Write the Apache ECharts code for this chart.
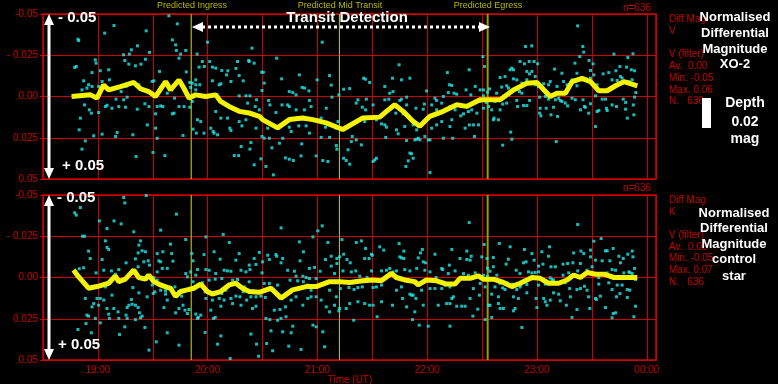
<!DOCTYPE html>
<html lang="en">
<head>
<meta charset="UTF-8">
<title>XO-2 transit</title>
<script src="https://cdn.jsdelivr.net/npm/echarts@6/dist/echarts.min.js"></script>
<style>html,body{margin:0;background:#000;}</style>
</head>
<body>
<div id="main" style="width:778px;height:384px;"></div>
<script>
// times are minutes after 18:00 UT, values are differential magnitude
var ingress = 111, midTransit = 192, egress = 273;
var yTickLabels = {'-50': '-0.05', '-25': '- 0.025', '0': '0.00', '25': '0.025', '50': '0.05'};

var topDots = [
[49.1,-0.0347],[49.5,-0.0339],[47.3,-0.0176],[48.2,-0.0182],[63.7,-0.0384],[68.8,-0.043],[86.4,-0.0398],[81.6,-0.0307],[78.3,-0.0283],[77.2,-0.0257],
[74,-0.0253],[74.7,-0.0218],[76.9,-0.0196],[80.5,-0.0186],[83.5,-0.0196],[86,-0.0226],[88.2,-0.0267],[58.6,-0.0222],[59,-0.0202],[56.8,-0.0145],
[61.3,-0.0156],[65.9,-0.0162],[66.3,-0.0101],[62.3,-0.0091],[60.4,-0.0061],[52.2,-0.0095],[51.3,-0.004],[54,-0.0051],[54.9,-0.0071],[56.8,-0.0061],
[52.7,0.0051],[55.3,0.0081],[56.4,0.0101],[50.4,0.0131],[49.8,0.0202],[57.7,0.0238],[53.1,0.0269],[51.3,0.0319],[62.3,0.0228],[60.4,0.0097],
[64.1,0.0061],[65,0.0053],[67.7,0.0071],[71.4,0.0061],[69.9,0.0016],[74.1,0.002],[76,0.0004],[75.1,0.0065],[81.5,0.0077],[85.7,0.0044],
[87.9,0.0061],[90.6,0],[92.4,0.0061],[94.3,0.0057],[95.5,0.0061],[91.5,0.0105],[87,0.0172],[91.5,0.0192],[90.1,0.0339],[80.9,0.0364],
[96.6,0.0358],[79.1,0.0232],[70.5,0.0218],[69.6,0.0242],[72.7,-0.003],[75.4,-0.0061],[82.4,-0.0071],[89.7,-0.0091],[90.6,-0.0095],[93.7,-0.0152],
[94.3,-0.0055],[97.9,-0.002],[100.7,-0.0343],[102.5,-0.0313],[103.4,-0.044],[98.8,-0.0489],[108,-0.0279],[104.3,-0.0232],[105.2,-0.0257],[102.9,-0.0279],
[108.3,-0.0149],[110.2,-0.0085],[111.6,-0.0081],[113.5,-0.0071],[110.7,-0.0055],[113.5,-0.004],[115.7,-0.0071],[119.9,-0.0329],[114.2,-0.0257],[117.1,-0.0212],
[118.2,-0.0182],[121.1,-0.0212],[115.3,-0.0178],[122.6,-0.0178],[124.4,-0.0172],[127.7,-0.0158],[131,-0.0156],[130.3,-0.0131],[135.4,-0.017],[136.3,-0.0212],
[142.4,-0.0218],[137.2,-0.0127],[132.7,-0.0091],[126.3,-0.0071],[122.6,-0.0095],[127.2,-0.0077],[139.4,-0.0095],[140.9,-0.0004],[137.2,-0.0004],[141.8,0.004],
[124.4,0.0091],[127.2,0.0131],[130.8,0.0131],[132.1,0.0192],[132.7,0.0206],[137.2,0.0152],[138.7,0.0178],[140.9,0.0141],[111.6,0.003],[110.2,0.0065],
[104.3,0.0061],[107.1,0.0061],[101.9,0.001],[101.6,0.0101],[106.5,0.0236],[112,0.0198],[114.4,0.0141],[116.2,0.0152],[113.8,0.0222],[118,0.0222],
[121.7,0.0192],[123.5,0.0222],[125.4,0.0232],[134.5,0.0358],[136.9,0.0358],[138.3,0.0303],[100.7,0.0105],[113.5,-0.0101],[123,0.0212],[92.4,0.0253],
[144.2,-0.0293],[142.7,-0.0212],[145.4,-0.0202],[157.7,-0.0232],[149.5,-0.0147],[150.4,-0.0147],[150.9,-0.0081],[160.4,-0.0107],[170.1,-0.0131],[149.7,-0.0036],
[143.1,-0.0004],[146.7,0.002],[153.3,0.0024],[154,0.0051],[146,0.0061],[148.2,0.0081],[157.3,0.0097],[160.6,0.0051],[164.6,-0.003],[166.5,-0.0024],
[171.6,-0.0055],[172.9,-0.0051],[175.3,-0.0034],[168.3,-0.001],[164.6,0.0061],[163.7,0.0051],[168.3,0.0081],[172.9,0.0081],[175.6,0.0024],[176.5,0.0061],
[180.2,0.0141],[179.8,-0.0101],[182.6,-0.0329],[186.6,-0.0127],[187.5,-0.0069],[191.7,-0.001],[194.3,-0.0044],[197.6,-0.0048],[187.9,0.0004],[184.8,0.0071],
[182,0.0131],[184.4,0.0186],[191.2,0.0152],[190.3,0.0192],[186.6,0.0248],[182,0.0248],[175.6,0.0222],[173.8,0.0178],[169.8,0.0178],[164.6,0.0186],
[165.6,0.0212],[161,0.0253],[159.2,0.0283],[152.8,0.0192],[153.7,0.0253],[150.9,0.0253],[146.4,0.0192],[149.7,0.0242],[143.6,0.0279],[143.1,0.0319],
[155.1,0.0311],[149.1,0.0378],[145.4,0.0414],[151.8,0.0424],[155.9,0.0475],[162.5,0.0372],[164.6,0.038],[166.8,0.0388],[171,0.036],[171.4,0.0287],
[179.3,0.036],[182.9,0.0388],[185.7,0.0394],[190.3,0.0297],[190.6,0.0319],[194.3,0.0374],[195.7,0.0388],[197.6,0.041],[196.7,0.0323],[198.5,0.0273],
[201.2,0.0263],[204,0.0293],[199,0.0242],[205.8,0.0152],[206.3,0.0081],[204.5,0.0065],[202.1,0.002],[201.2,0.004],[206.7,0.0016],[210.4,0.0051],
[212.2,0.0141],[215,0.0166],[216.8,0.0172],[217.7,0.0186],[216.8,0.002],[219,0.0016],[219.5,-0.002],[221.3,-0.003],[225,0.0024],[225.9,0.0016],
[228.7,0.0004],[228.7,0.0051],[223.2,0.0061],[222.8,0.0101],[227.7,0.0182],[231.4,0.0141],[232.3,0.0172],[234.2,0.0202],[235.1,0.0253],[236,0.0182],
[230.5,0.0343],[232.3,0.0374],[229.6,0.039],[231.4,0.0347],[228.3,0.0424],[233.2,0.0263],[228.7,0.0267],[212.2,0.0374],[211.3,0.0384],[210.4,0.0394],
[217.3,0.0248],[223.2,0.0202],[224.1,0.0226],[226.8,0.0105],[233.8,0.0071],[237.8,0.0077],[238.4,0.0046],[239.6,-0.0034],[242.4,0.0051],[244.2,0.001],
[245.1,0.0024],[248.8,0],[245.1,0.0081],[247.9,0.004],[252.4,0.0061],[255.2,0.0081],[258.3,0.0117],[259.8,0.0105],[262.5,0.0091],[264.3,0.0081],
[267.1,0.0101],[263,0.0172],[265.2,0.0172],[268,0.0172],[265.8,0.0242],[260.7,0.0192],[253.4,0.0141],[252.4,0.0182],[247.9,0.0152],[245.1,0.0172],
[242.4,0.0192],[240.5,0.0263],[234.2,0.0259],[236,0.0263],[238.7,0.0242],[241.5,0.0263],[248.8,0.0253],[253.9,0.0253],[254.6,-0.002],[251.5,-0.0024],
[256.1,-0.0014],[261.2,-0.004],[263.8,-0.001],[266.2,-0.0061],[268.9,-0.004],[270.7,-0.004],[270.7,-0.0004],[272.9,-0.0026],[274,-0.0046],[272.2,0.0036],
[270.7,0.0071],[273.5,0.0061],[268.9,0.003],[262.9,-0.0162],[251,-0.0145],[252.1,-0.0071],[253.4,-0.0067],[241.5,0.0461],[224.6,-0.0192],[221,-0.0111],
[225.9,-0.0101],[230.5,-0.0111],[205.2,-0.0111],[206.2,-0.0105],[208.5,-0.0085],[216.8,-0.0061],[270.4,-0.0242],[271.3,-0.0182],
[322.2,-0.0428],[293.7,-0.0303],[297.1,-0.0307],[325,-0.0303],[325.5,-0.0269],[323.3,-0.0242],[320.7,-0.0202],[328.4,-0.0218],[330.6,-0.0198],[342,-0.0257],
[352.4,-0.0259],[349.6,-0.0236],[290.7,-0.0212],[293.1,-0.0198],[295.7,-0.0212],[298.4,-0.0212],[300.3,-0.0198],[286.2,-0.0172],[285.3,-0.0162],[287.1,-0.0162],
[294.4,-0.0152],[297.2,-0.0152],[299,-0.0121],[295.9,-0.0137],[309.6,-0.0166],[313.6,-0.0141],[321.8,-0.0141],[329.2,-0.0158],[331,-0.0131],[336.1,-0.0137],
[339.2,-0.0145],[343.1,-0.0156],[345.3,-0.0182],[348.9,-0.0178],[351.5,-0.0162],[353.3,-0.0156],[352,-0.0101],[350.2,-0.0091],[346.5,-0.0111],[345.6,-0.0121],
[343.8,-0.0097],[341,-0.0101],[332.8,-0.0071],[329.2,-0.0111],[324.6,-0.0101],[321.8,-0.0065],[319.1,-0.0101],[314.5,-0.0091],[316.4,-0.0071],[310.9,-0.0061],
[307.2,-0.0091],[306.3,-0.0071],[303.6,-0.0077],[300.8,-0.0061],[299,-0.0071],[294.4,-0.0101],[291.7,-0.0081],[288.9,-0.0101],[287.1,-0.0107],[282.5,-0.0121],
[279.8,-0.0115],[277.9,-0.002],[280.7,-0.0057],[283.4,-0.0065],[284.4,-0.0051],[277,0.003],[281.2,0.0046],[283.4,0.004],[288.9,0.0024],[290.4,-0.003],
[291.7,-0.002],[295.9,0.0024],[292.6,0.0055],[289.3,0.0061],[294.4,0.0055],[301.4,0.0004],[304.5,0],[306.3,0.0016],[310,0.002],[311.8,0.001],
[313.6,0.003],[315.4,0.004],[316.7,0.0057],[319.1,0.001],[320.9,0.002],[325.1,0.002],[329.2,0.0044],[325.9,0.0061],[331.9,-0.0004],[335.6,0.0016],
[337.4,0.0016],[341,0.0051],[343.4,0.0061],[347.1,0.0016],[348.4,0.0036],[353.3,0.0004],[354,-0.0024],[352.6,0.0051],[348.4,0.0077],[337.9,0.0071],
[338.3,0.0085],[333.7,0.0085],[332.8,0.0091],[328.2,0.0101],[326.4,0.0065],[323.7,0.0081],[312.7,0.0024],[311.2,0.0121],[307.6,0.0111],[305,0.0071],
[301.7,0.0071],[301.4,0.0101],[302.1,0.0117],[309,0.0065],[279.8,0.0081],[278.9,0.0141],[276.1,0.0141],[275.2,0.0081],[349.3,0.0131],[352.9,0.0111],
[331.9,0.0182],[310.5,0.0273],[286.2,0.0259],[285.6,0.0216],[281.2,0.0295],[276.5,0.0131]
];

var topAverage = [
[45.6,0],[56,-0.001],[59.5,0.001],[63.1,-0.007],[65.9,-0.004],[72.3,-0.006],[79.6,-0.0085],[83.3,-0.0047],[87.8,-0.003],[91.5,0],
[97,-0.009],[99.7,-0.004],[104.3,-0.01],[107,-0.005],[109.8,0.001],[113.4,-0.001],[118.9,0],[124.4,-0.001],[127.1,0.003],[131.7,0.006],
[137.2,0.009],[142.7,0.01],[148.2,0.012],[150,0.014],[158.2,0.019],[164.6,0.014],[171.9,0.013],[177.4,0.014],[184.7,0.016],[193.8,0.02],
[204.8,0.013],[214,0.0125],[217.7,0.009],[222.2,0.005],[226.8,0.009],[232.2,0.015],[235.9,0.018],[241.4,0.012],[248.7,0.009],[256.1,0.005],
[261.5,0.006],[268.8,0.002],[274.3,0.002],[279.8,0.002],[287.1,-0.004],[294.4,-0.008],[299.9,-0.0085],[307.2,0],[310.9,-0.002],[315.5,-0.002],
[319.1,-0.009],[324.6,-0.011],[329.2,-0.009],[333.7,-0.0035],[338.3,-0.0035],[342.9,-0.0065],[347.5,-0.009],[354.8,-0.0065]
];

var bottomDots = [
[47.3,-0.0392],[48.2,-0.0378],[50.4,-0.0424],[74.1,-0.0485],[74.7,-0.0452],[86.4,-0.0497],[102.9,-0.0384],[60.8,-0.0343],[65,-0.0297],[68.8,-0.0343],
[72.7,-0.0325],[79.6,-0.0277],[94.3,-0.0287],[51.6,-0.025],[52.7,-0.025],[64.1,-0.0222],[65,-0.0182],[65.9,-0.017],[54.9,-0.016],[55.8,-0.0115],
[62.3,-0.0109],[75.4,-0.0089],[71.4,-0.0048],[69.6,-0.002],[67.4,-0.004],[63.2,-0.0044],[59,-0.0028],[49.8,-0.0053],[52.2,-0.0059],[82.4,-0.0196],
[83.3,-0.0222],[84.2,-0.0162],[86,-0.0156],[82,-0.0149],[87.5,-0.0101],[85.1,-0.0095],[80.5,-0.0113],[82,-0.0065],[80.2,-0.0028],[88.2,-0.0075],
[92.4,-0.0145],[95.5,-0.0156],[99.7,-0.0202],[100.3,-0.0145],[93.3,-0.0101],[94.3,-0.0095],[95.2,-0.0055],[92.4,-0.0034],[101,-0.0099],[97.9,-0.0055],
[90.6,0],[92.4,0.0016],[89.7,0.0046],[91.1,0.0087],[90.2,0.0097],[86.9,0.0117],[82.4,0.0093],[79.1,0.0061],[78.3,0.0133],[76.9,0.0168],
[76,0.0182],[78.7,0.0162],[80.5,0.0168],[82,0.0182],[82.7,0.0214],[83.3,0.0244],[84.2,0.0234],[75.4,0.0228],[71,0.0208],[68.7,0.0188],
[65.9,0.0222],[67.7,0.0107],[61.3,0.0127],[60.4,0.0168],[63.2,0.0137],[65,0.0188],[64.1,0.0057],[59.5,0.0127],[57.7,0.0158],[56.8,0.0178],
[53.1,0.0127],[54,0.0228],[54.9,0.0234],[58.6,0.0248],[61.3,0.0275],[66.3,0.0248],[71.4,0.0248],[76,0.0248],[80.5,0.0255],[53.5,0.0279],
[49.1,0.0315],[56.4,0.0335],[71.8,0.0345],[74.7,0.0299],[85.7,0.0303],[91.9,0.039],[87.9,0.044],[97.9,0.0335],[104.3,0.041],[102.5,0.0214],
[104.3,0.0188],[96.1,0.0182],[97.9,0.0137],[97,0.0081],[94.3,0.0077],[97,0.0101],[102.1,0.0057],[104,0.0087],[105.8,0.0113],[106.5,0.0168],
[107.6,0.0198],[108.9,0.0218],[114.4,0.0248],[113.5,0.0222],[116.2,0.0228],[119,0.0127],[122.6,0.0137],[121.7,0.0198],[123.2,0.0248],[124.1,0.0242],
[127.2,0.0174],[126.3,0.0127],[129,0.0137],[127.7,0.0097],[129.9,0.0077],[133.6,0.0158],[132.7,0.0127],[138.2,0.0168],[137.6,0.0117],[141.3,0.0137],
[139.4,0.0087],[140,0.0057],[135.4,0.0113],[136.3,0.0012],[133.6,0.0016],[127.7,0.0006],[124.1,0.001],[120.8,-0.0044],[119,-0.0048],[114.4,-0.0048],
[113.5,-0.0014],[110.7,-0.0034],[108.9,-0.0004],[108,-0.0024],[112,0.0026],[114.4,0.0046],[117.1,0.0032],[120.8,0.0016],[118.6,0.0087],[124.4,-0.0024],
[126.8,-0.0111],[129,-0.0044],[130.8,-0.004],[132.7,-0.0038],[135.4,-0.0105],[138.2,-0.0044],[140.9,-0.0034],[142.7,-0.0075],[137.2,-0.0145],[131.8,-0.0212],
[128.5,-0.0261],[123.5,-0.0156],[118,-0.0139],[119,-0.0246],[111.3,-0.0145],[112,-0.0101],[108,-0.023],[127.2,0.0354],[125.4,0.0404],[132.3,0.0491],
[118.6,0.0333],[109.8,0.0194],[114.9,0.0242],
[160.1,-0.0301],[182.6,-0.0313],[180.2,-0.0283],[177.5,-0.0246],[170.1,-0.0216],[172.3,-0.0156],[185.7,-0.0212],[193.4,-0.023],[201.2,-0.0212],[204,-0.0222],
[206.3,-0.0176],[209.5,-0.0141],[214,-0.0186],[216.2,-0.0166],[224.6,-0.0206],[227.2,-0.016],[237.3,-0.017],[236.3,-0.0149],[244.2,-0.0141],[253.4,-0.017],
[261.6,-0.016],[262.9,-0.0333],[271.1,-0.02],[148.2,-0.0152],[145.4,-0.0115],[152.8,-0.0135],[153.7,-0.0109],[157.3,-0.0139],[157.7,-0.0129],[161,-0.0115],
[160.1,-0.0089],[170.5,-0.0101],[175.6,-0.0055],[178.4,-0.0061],[181.5,-0.0038],[184.4,-0.0109],[187.5,-0.0129],[190.6,-0.0115],[192.1,-0.0125],[194.3,-0.0141],
[196.1,-0.0109],[197.9,-0.0089],[205.8,-0.0115],[208.2,-0.0115],[210,-0.0135],[225,-0.0125],[225.9,-0.0119],[227.2,-0.0115],[235.1,-0.0119],[237.8,-0.0095],
[239.1,-0.0089],[247.9,-0.0055],[252.1,-0.0075],[257.9,-0.0115],[261.6,-0.0109],[263.4,-0.0105],[264,-0.0129],[269.8,-0.0125],[272.6,-0.0115],[272.9,-0.0055],
[143.1,-0.0048],[150,-0.0095],[149.7,-0.0028],[146.4,-0.0079],[163.7,-0.0044],[167.4,-0.0038],[168.3,-0.0008],[172,-0.0008],[173.8,0],[175.6,0.0006],
[179.3,0.0006],[187.5,-0.0069],[189.3,-0.0024],[190.6,-0.0085],[193.9,-0.004],[198.5,-0.0034],[200.9,-0.004],[203.1,-0.0008],[207.1,0],[209.5,-0.004],
[215,-0.004],[217.7,-0.0044],[219.5,-0.0055],[221.3,-0.0034],[223.2,-0.004],[227.7,-0.0048],[230.5,-0.004],[234.2,-0.0055],[238.7,-0.0044],[241.5,-0.0034],
[244.8,0],[248.4,-0.0048],[251.5,-0.0024],[255.2,-0.004],[259.8,-0.0024],[262.5,-0.0014],[266.2,-0.0028],[270.7,-0.0014],[272.9,-0.0008],[142.7,0.0026],
[150.9,0.0036],[153.7,0.0036],[158.2,0.0046],[165,0.0016],[169.2,0.002],[172.3,0.0026],[174.7,0.0046],[176.5,0.0077],[183.9,0.0036],[186.6,0.0077],
[190.3,0.0117],[192.5,0.0067],[197.2,0.0061],[200,0.0073],[202.1,0.0061],[204.5,0.0057],[210.4,0.0061],[212.2,0.0057],[215,0.0046],[223.2,0.0077],
[225.9,0.0057],[230.5,0.0101],[232.3,0.0107],[233.8,0.0127],[236.9,0.0077],[241.5,0.0067],[244.2,0.0067],[247.9,0.0067],[249.7,0.0046],[247,0.0026],
[252.4,0.0057],[254.3,0.0117],[253.4,0.0127],[250.6,0.0158],[252.4,0.0158],[256.1,0.0174],[258.8,0.0174],[260.7,0.0174],[263.4,0.0127],[265.2,0.0067],
[268.9,0.0036],[268.5,0.0107],[271.6,0.0057],[273.5,0.0168],[143.6,0.0117],[146.4,0.0117],[149.1,0.0113],[151.5,0.0121],[144.5,0.0188],[146.4,0.0174],
[156.4,0.0198],[159.5,0.0194],[162.5,0.0178],[165.6,0.0137],[168.3,0.0117],[172,0.0168],[174.7,0.0127],[176.5,0.0117],[179.3,0.0117],[182,0.0137],
[184.8,0.0178],[186.6,0.0208],[189.3,0.0168],[192.1,0.0188],[195.7,0.0188],[197.6,0.0158],[202.1,0.0147],[205.8,0.0158],[208.5,0.0168],[210.4,0.0168],
[215,0.0147],[221,0.0168],[226.5,0.0127],[228.7,0.0178],[231.4,0.0107],[233.2,0.0208],[237.8,0.0168],[246,0.0168],[151.8,0.0248],[154,0.0255],
[158.2,0.0259],[160.1,0.0248],[162.8,0.0238],[161,0.0329],[165.6,0.0335],[166.5,0.0295],[177.5,0.0289],[179.3,0.0299],[182.9,0.0329],[191.7,0.0202],
[199.8,0.0259],[212.6,0.0238],[231.9,0.0255],[235.6,0.0289],[240.5,0.0295],[252.4,0.0295],[264.9,0.0234],[267.6,0.0192],[271.6,0.0255],[143.6,0.0343],
[146.7,0.0404],[152.2,0.04],[154.6,0.0323],[155.5,0.0444],[164.3,0.0416],[171,0.0436],[183.9,0.042],[147.8,0.0477],
[322.2,-0.0321],[279.4,-0.0206],[285.3,-0.0186],[293.1,-0.017],[297.2,-0.0145],[306.8,-0.0186],[302.6,-0.0156],[276.1,-0.0121],[284.3,-0.0111],[292.6,-0.0089],
[294,-0.0095],[298.4,-0.0105],[300.8,-0.0069],[303.2,-0.0081],[306.3,-0.0129],[307.6,-0.0065],[310,-0.0065],[314.2,-0.0081],[316.7,-0.0085],[319.6,-0.0089],
[320,-0.0149],[324,-0.016],[325.5,-0.0145],[329.2,-0.0166],[331,-0.022],[335,-0.0236],[337.4,-0.0162],[338.3,-0.0162],[341.6,-0.0176],[344.7,-0.0129],
[347.1,-0.0115],[349.6,-0.0141],[352,-0.016],[352.4,-0.0125],[335.6,-0.0101],[339.8,-0.0101],[331.9,-0.0105],[329.2,-0.0125],[345.6,-0.0089],[352,-0.0024],
[353.3,-0.0055],[350.7,-0.003],[276.1,-0.0065],[274.3,-0.0038],[278,-0.0014],[283.1,-0.0081],[288.6,-0.0044],[290.7,-0.0024],[295.3,-0.0034],[297.2,-0.0028],
[299,-0.003],[300.8,-0.0034],[307.2,0.0002],[309,0.0016],[314.2,-0.0014],[317.3,-0.0028],[322.2,-0.004],[323.7,-0.0085],[327.3,-0.0044],[330.1,-0.0065],
[330.6,-0.002],[333.7,0],[338.3,-0.0028],[341,-0.0048],[342.9,-0.0044],[347.4,-0.0028],[349.3,-0.0004],[350.2,-0.0034],[353.8,0.0012],[279.8,0.0036],
[283.4,0.0032],[286.7,0.004],[290.7,0.0057],[277,0.0057],[275.2,0.0101],[278.9,0.0117],[281.2,0.0063],[282.5,0.0073],[288.9,0.0073],[291.1,0.0046],
[294.4,0.0042],[300.8,0.0046],[304.5,0.004],[308.1,0.0012],[315.4,0.0032],[317.8,0.0067],[321.8,0.0073],[323.7,0.0067],[325.9,0.0053],[327.3,0.0077],
[333.7,0.004],[339.2,0.0032],[341,0.0073],[343.8,0.0046],[346.5,0.0046],[349.3,0.0073],[350.7,0.0077],[334.6,0.0113],[331.9,0.0127],[328.2,0.0117],
[318.2,0.0117],[311.8,0.0101],[309,0.0093],[307.2,0.0137],[304.5,0.0147],[303.6,0.0127],[299.5,0.0127],[294.4,0.0093],[287.1,0.0117],[289.8,0.0127],
[278.9,0.0158],[279.8,0.0188],[281.6,0.0188],[274.3,0.0168],[288,0.0188],[287.1,0.0202],[299.9,0.0182],[305.4,0.0168],[312.7,0.0141],[316,0.0168],
[328.8,0.0188],[332.4,0.0133],[337.4,0.0182],[341.6,0.0218],[343.4,0.0117],[345.3,0.0097],[349.3,0.0121],[353.8,0.0174],[319.1,0.0242],[321.8,0.0194],
[342.9,0.0214],[341,0.0244],[352.9,0.0238],[291.7,0.0303],[275.2,0.0242]
];

var bottomAverage = [
[46.7,-0.0045],[49.4,-0.0005],[54.9,0.0065],[59.5,0.0055],[65.9,0.0035],[69.5,-0.001],[71.4,0.0025],[75,0.001],[79.6,-0.0045],[82.3,0],
[86,0.001],[87.8,-0.0015],[90.6,0.0025],[94.2,0.0045],[97.9,0.006],[99.7,0.0065],[102.5,0.0115],[105.2,0.0085],[108.8,0.0075],[112.5,0.0065],
[116.2,0.004],[119.8,0.0085],[122.5,0.01],[127.1,0.0085],[131.7,0.0045],[135.4,0.0035],[139,0.0065],[142.7,0.0085],[148.2,0.009],[154.6,0.0065],
[160.1,0.0125],[166.4,0.0075],[173.8,0.0055],[179.3,0.0055],[186.6,0.0025],[192,0.0025],[197.5,0.003],[204.8,0.002],[210.3,0.0015],[214.9,0.002],
[220.4,-0.0025],[223.1,0],[227.7,0.0015],[233.2,0.0025],[235,0.0045],[239.6,0.0015],[245.1,0.002],[250.6,0.004],[255.1,0.004],[257.9,0.0005],
[263.4,0.0005],[267.9,-0.001],[270.6,0.001],[276.1,0.001],[281.6,0.003],[286.2,0.0055],[290.8,0.0035],[297.2,0],[301.7,0.0005],[306.3,0.0035],
[311.8,0.0035],[316.4,0.0015],[320,-0.0015],[323.7,0],[327.4,-0.003],[331.9,-0.002],[336.5,-0.002],[342,0],[347.5,0],[354.8,0]
];

var red = '#cc0000';
var font = 'Arial, "Liberation Sans", sans-serif';

function timeLabel(v) {
    if (v % 60 !== 0) return '';
    var h = (18 + v / 60) % 24;
    return (h < 10 ? '0' : '') + h + ':00';
}

function makeGrid(top) {
    return {left: 43, right: 122, top: top, height: 165, show: true, borderColor: '#a00000', borderWidth: 2};
}

function makeX(i, showLabels) {
    return {
        gridIndex: i, type: 'value', min: 30, max: 365, interval: 30,
        axisLine: {show: false},
        axisTick: {show: true, length: 4, lineStyle: {color: red}},
        axisLabel: {show: showLabels, color: red, fontSize: 10, fontFamily: font, margin: 5, formatter: timeLabel},
        splitLine: {show: true, lineStyle: {color: red, width: 1}}
    };
}

function makeY(i) {
    return {
        gridIndex: i, type: 'value', inverse: true, min: -0.05, max: 0.05, interval: 0.025,
        axisLine: {show: false},
        axisTick: {show: true, length: 3, lineStyle: {color: red}},
        axisLabel: {color: red, fontSize: 10, fontFamily: font, margin: 5,
            formatter: function (v) { return yTickLabels[String(Math.round(v * 1000))] || ''; }},
        splitLine: {show: true, lineStyle: {color: red, width: 1}}
    };
}

// vertical marker for a predicted contact time, drawn through the panel's axes
function transitSeries(i, t, color, width) {
    return {type: 'line', xAxisIndex: i, yAxisIndex: i, data: [[t, -0.05], [t, 0.05]], showSymbol: false,
        silent: true, lineStyle: {color: color, width: width}, z: 2};
}

function dotSeries(i, data) {
    return {type: 'scatter', xAxisIndex: i, yAxisIndex: i, data: data, symbol: 'rect', symbolSize: 3,
        itemStyle: {color: '#1ee8e8'}, z: 3};
}

function avgSeries(i, data) {
    return {type: 'line', xAxisIndex: i, yAxisIndex: i, data: data, showSymbol: false, smooth: false,
        lineStyle: {color: '#f4f400', width: 5}, z: 4};
}

function txt(x, y, s, f, color, align) {
    return {type: 'text', z: 10, style: {x: x, y: y, text: s, font: f, fill: color,
        textAlign: align || 'left', textVerticalAlign: 'middle'}};
}

function vArrow(x, y1, y2) {
    return [
        {type: 'line', z: 10, shape: {x1: x, y1: y1 + 9, x2: x, y2: y2 - 9}, style: {stroke: '#fff', lineWidth: 3}},
        {type: 'polygon', z: 10, shape: {points: [[x, y1], [x - 5, y1 + 11], [x + 5, y1 + 11]]}, style: {fill: '#fff'}},
        {type: 'polygon', z: 10, shape: {points: [[x, y2], [x - 5, y2 - 11], [x + 5, y2 - 11]]}, style: {fill: '#fff'}}
    ];
}

var small = '10px ' + font;
var big = 'bold 13px ' + font;
var bigger = 'bold 15px ' + font;

var graphics = [].concat(
    vArrow(49, 14, 179),
    vArrow(49, 195, 360),
    [
        txt(58, 18, '- 0.05', bigger, '#fff'),
        txt(62, 166, '+ 0.05', bigger, '#fff'),
        txt(57, 198, '- 0.05', bigger, '#fff'),
        txt(58, 345, '+ 0.05', bigger, '#fff'),
        txt(192, 6, 'Predicted Ingress', '9px ' + font, '#b8b800', 'center'),
        txt(340, 6, 'Predicted Mid Transit', '9px ' + font, '#b8b800', 'center'),
        txt(488, 6, 'Predicted Egress', '9px ' + font, '#b8b800', 'center'),
        txt(347, 18, 'Transit Detection', bigger, '#fff', 'center'),
        {type: 'line', z: 10, shape: {x1: 202, y1: 27, x2: 480, y2: 27},
            style: {stroke: '#fff', lineWidth: 3, lineDash: [3, 3]}},
        {type: 'polygon', z: 10, shape: {points: [[192, 27], [203, 22], [203, 32]]}, style: {fill: '#fff'}},
        {type: 'polygon', z: 10, shape: {points: [[490, 27], [479, 22], [479, 32]]}, style: {fill: '#fff'}},
        txt(651, 8, 'n=636', small, red, 'right'),
        txt(651, 188, 'n=636', small, red, 'right'),
        txt(669, 19, 'Diff Mag', small, red),
        txt(669, 31, 'V', small, red),
        txt(669, 54, 'V (filter)', small, red),
        txt(669, 66, 'Av.  0.00', small, red),
        txt(669, 78, 'Min. -0.05', small, red),
        txt(669, 90, 'Max. 0.06', small, red),
        txt(669, 101, 'N.   636', small, red),
        txt(669, 200, 'Diff Mag', small, red),
        txt(669, 212, 'K', small, red),
        txt(669, 235, 'V (filter)', small, red),
        txt(669, 247, 'Av.  0.00', small, red),
        txt(669, 258, 'Min. -0.05', small, red),
        txt(669, 270, 'Max. 0.07', small, red),
        txt(669, 282, 'N.   636', small, red),
        txt(735, 17, 'Normalised', big, '#fff', 'center'),
        txt(735, 33, 'Differential', big, '#fff', 'center'),
        txt(735, 49, 'Magnitude', big, '#fff', 'center'),
        txt(735, 64, 'XO-2', big, '#fff', 'center'),
        {type: 'rect', z: 10, shape: {x: 702, y: 98, width: 9, height: 30}, style: {fill: '#fff'}},
        txt(745, 103, 'Depth', 'bold 14px ' + font, '#fff', 'center'),
        txt(745, 122, '0.02', 'bold 14px ' + font, '#fff', 'center'),
        txt(745, 139, 'mag', 'bold 14px ' + font, '#fff', 'center'),
        txt(734, 213, 'Normalised', big, '#fff', 'center'),
        txt(734, 228, 'Differential', big, '#fff', 'center'),
        txt(734, 244, 'Magnitude', big, '#fff', 'center'),
        txt(734, 259, 'control', big, '#fff', 'center'),
        txt(734, 276, 'star', big, '#fff', 'center'),
        txt(350, 380, 'Time (UT)', small, red, 'center')
    ]
);

var myChart = echarts.init(document.getElementById('main'));
var option = {
    backgroundColor: '#000',
    animation: false,
    grid: [makeGrid(14), makeGrid(195)],
    xAxis: [makeX(0, false), makeX(1, true)],
    yAxis: [makeY(0), makeY(1)],
    series: [
        transitSeries(0, ingress, '#d8d800', 1),
        transitSeries(0, midTransit, '#c8c800', 1),
        transitSeries(0, egress, '#a09800', 2),
        transitSeries(1, ingress, '#d8d800', 1),
        transitSeries(1, midTransit, '#c8c800', 1),
        transitSeries(1, egress, '#a09800', 2),
        dotSeries(0, topDots),
        avgSeries(0, topAverage),
        dotSeries(1, bottomDots),
        avgSeries(1, bottomAverage)
    ],
    graphic: graphics
};
myChart.setOption(option);
</script>
</body>
</html>
